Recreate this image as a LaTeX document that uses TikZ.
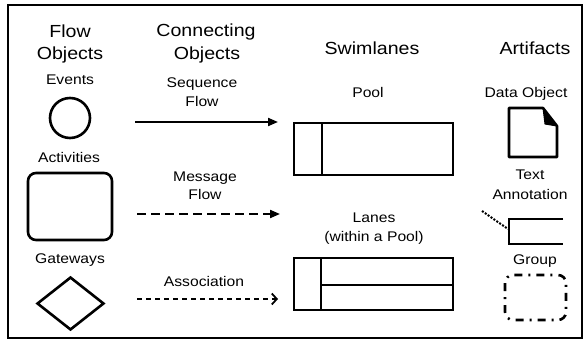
\documentclass[tikz,border=0pt]{standalone}
\usepackage{fontspec}
\usetikzlibrary{arrows.meta,shapes.geometric}
\newfontfamily\bpmnfont[FakeStretch=1.12]{Liberation Sans}
\begin{document}
\begin{tikzpicture}[x=1pt,y=-1pt,
  heading/.style={font=\bpmnfont\fontsize{17.5}{20}\selectfont, anchor=base, inner sep=0pt},
  lbl/.style={font=\bpmnfont\fontsize{14}{16}\selectfont, anchor=base, inner sep=0pt},
  shape line/.style={line width=2.6pt},
  lane line/.style={line width=2.2pt},
  seqflow/.style={line width=2pt, -{Triangle[length=10pt,width=8pt]}},
  msgflow/.style={line width=2pt, dash pattern=on 9pt off 5pt, -{Triangle[length=10pt,width=8pt]}},
  assocflow/.style={line width=1.8pt, dash pattern=on 5pt off 4pt, -{Straight Barb[length=5pt,width=11pt,line width=1.8pt]}},
  grpline/.style={line width=2.6pt, rounded corners=8pt, dash pattern=on 8pt off 6pt on 2pt off 6pt}
]
\useasboundingbox (0,0) rectangle (587,342);
\fill[white] (0,0) rectangle (587,342);

% outer frame
\draw[line width=1.2pt] (8,5) rectangle (582,338);

% column headings
\node[heading] (hflow1) at (70,38) {Flow};
\node[heading] (hflow2) at (70,60) {Objects};
\node[heading] (hconn1) at (206,37) {Connecting};
\node[heading] (hconn2) at (207,60) {Objects};
\node[heading] (hswim) at (372,55) {Swimlanes};
\node[heading] (hart) at (535,55) {Artifacts};

% flow objects
\node[lbl] (tevents) at (70,85) {Events};
\node[circle, draw, shape line, minimum size=40pt, inner sep=0pt] (event) at (70,118) {};
\node[lbl] (tact) at (69,163) {Activities};
\draw[shape line, rounded corners=8pt] (28,173) rectangle (112,240);
\node[lbl] (tgate) at (70,263) {Gateways};
\node[diamond, draw, shape line, minimum width=67pt, minimum height=53pt, inner sep=0pt] (gateway) at (70.5,303.5) {};

% connecting objects
\node[lbl] (tseq1) at (202,88) {Sequence};
\node[lbl] (tseq2) at (202,107) {Flow};
\coordinate (seqA) at (135,122);
\coordinate (seqB) at (278,122);
\draw[seqflow] (seqA) -- (seqB);

\node[lbl] (tmsg1) at (205,182) {Message};
\node[lbl] (tmsg2) at (205,200) {Flow};
\coordinate (msgA) at (137,214);
\coordinate (msgB) at (280,214);
\draw[msgflow] (msgA) -- (msgB);

\node[lbl] (tassoc) at (204,287) {Association};
\coordinate (asA) at (137,299);
\coordinate (asB) at (278,299);
\draw[assocflow] (asA) -- (asB);

% swimlanes
\node[lbl] (tpool) at (368,98) {Pool};
\draw[lane line] (294,123) rectangle (453,175);
\draw[lane line] (322,123) -- (322,175);

\node[lbl] (tlanes1) at (374,223) {Lanes};
\node[lbl] (tlanes2) at (374,241) {(within a Pool)};
\draw[lane line] (294,258) rectangle (453,310);
\draw[lane line] (321,258) -- (321,310);
\draw[lane line] (321,285) -- (453,285);

% artifacts
\node[lbl] (tdata) at (526,98) {Data Object};
\draw[shape line, line join=round] (509,108) -- (543,108) -- (557,126) -- (557,157) -- (509,157) -- cycle;
\fill[line join=round, draw, line width=1pt] (543,108) -- (545,124) -- (557,126) -- cycle;

\node[lbl] (ttext1) at (530,180) {Text};
\node[lbl] (ttext2) at (530,200) {Annotation};
\draw[lane line] (563,219) -- (509,219) -- (509,244) -- (563,244);
\coordinate (noteA) at (482,211);
\coordinate (noteB) at (508,229);
\draw[line width=2pt, dash pattern=on 2pt off 1.5pt] (noteA) -- (noteB);

\node[lbl] (tgroup) at (535,265) {Group};
\draw[grpline] (505,275) rectangle (566,320);
\end{tikzpicture}
\end{document}
